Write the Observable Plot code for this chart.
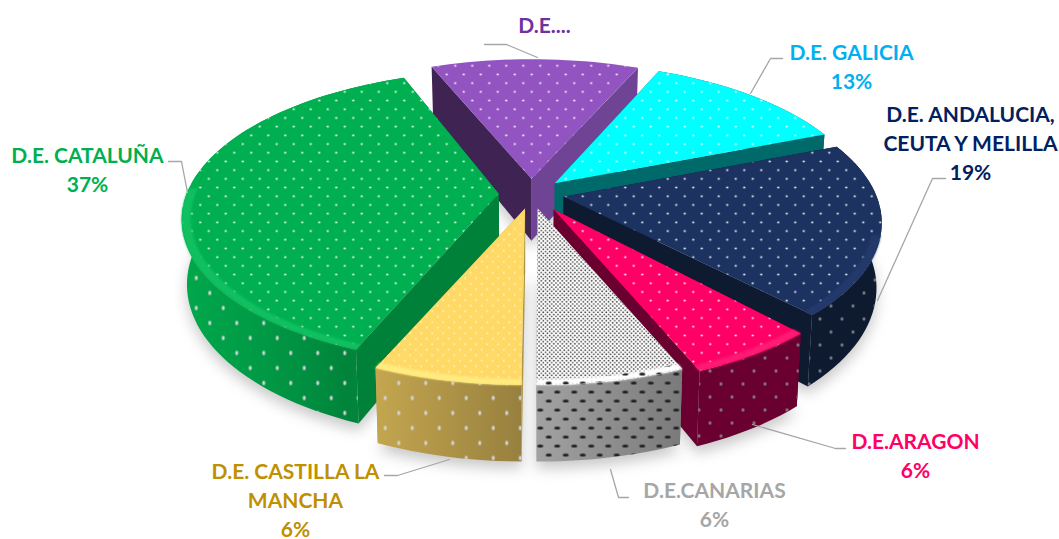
<!DOCTYPE html>
<html><head><meta charset="utf-8">
<style>html,body{margin:0;padding:0;background:#fff}svg{display:block}</style>
<script src="https://cdn.jsdelivr.net/npm/d3@7"></script>
<script src="https://cdn.jsdelivr.net/npm/@observablehq/plot@0.6"></script>
</head><body><div id="chart"></div>
<script>
// data, clockwise from the back slice
const categories = ["D.E....","D.E. GALICIA","D.E. ANDALUCIA,\nCEUTA Y MELILLA","D.E.ARAGON","D.E.CANARIAS","D.E. CASTILLA LA\nMANCHA","D.E. CATALUÑA"];
const shares = [13,12.5,18.9,6.1,6.1,6,37.4];
const showPercent = [false,true,true,true,true,true,true];
const labelColors = ["#7030A0","#00B0F0","#002060","#FF0066","#A6A6A6","#BF9000","#00B050"];
const topColors = ["#9254C0","#00FFFF","#1C3260","#FF0066","#FFFFFF","#FFD966","#00B050"];
const wallColors = ["#6F4494","#006A6B","#0D1A30","#6A0030","#8E8E8E","#AE9546","#00813A"];
const sideColors = ["#3F2353","#006A6B","#0D1A30","#6A0030","#8E8E8E","#AE9546","#00813A"];
const bandColors = [null,null,"#24396B","#FF1A74","#FFFFFF","#FFEB80","#10C060"];
const drawOrder = [0,1,2,3,6,4,5];

// layout
const labelPos = [[544,23],[851,65],[970,141],[915,454],[714,503],[295,498],[87,168]];
const leaders = [
  [[484,44],[506,44],[537,57]],
  [[782,58],[770,58],[750,93]],
  [[945,178],[932,178],[877,300]],
  [[845,448],[835,448],[752,424]],
  [[628,497],[618,497],[610,469]],
  [[384,475],[397,475],[449,459]],
  [[168,161],[181,161],[187,192]]
];
const view = {cx:531, cy:193, rx:312, ry:143, u:0.16, depth:63, shrink:0.985, start:-23.4};
const explodeBy = [0.105,0.105,0.105,0.13,0.105,0.105,0.105];
// small per-slice edge adjustments in degrees (start, end), for the drawing's perspective
const edgeTrim = [[1.5,0],[0,0],[0,0],[1,-0.7],[-1,0],[0,1.5],[0,2]];

const total = d3.sum(shares);
const rad = d => d*Math.PI/180;
let acc = view.start;
const slices = shares.map((v,i)=>{const a0=acc; acc+=v/total*360; return {i,a0:a0+edgeTrim[i][0],a1:acc+edgeTrim[i][1],am:(a0+acc)/2,e:explodeBy[i]};});

function plane(s,r,a){
  const px=r*Math.sin(rad(a))+s.e*Math.sin(rad(s.am));
  const py=r*Math.cos(rad(a))+s.e*Math.cos(rad(s.am));
  const k=1/(1+view.u*py);
  return {x:view.cx+view.rx*px*k, y:view.cy-view.ry*py*k, k};
}
const drop = p => ({x:view.cx+(p.x-view.cx)*view.shrink, y:p.y+view.depth*p.k});
function arc(s,r,a0,a1){const n=Math.max(2,Math.ceil(Math.abs(a1-a0)/2)); return d3.range(n+1).map(j=>plane(s,r,a0+(a1-a0)*j/n));}
const poly=(pts,fill,extra={})=>Plot.line(pts,{x:"x",y:"y",fill,stroke:"none",...extra});

const marks=[];
// soft shadow beneath the pie
for(const s of slices){
  const bottom=[plane(s,0,0),...arc(s,1,s.a0,s.a1)].map(drop).map(p=>({x:p.x,y:p.y+7}));
  marks.push(poly(bottom,"#c8c8c8",{imageFilter:"blur(7px)"}));
}
const dotsTop=["url(#dTop)","url(#dTop)","url(#dTop)","url(#dTop)","url(#dDense)","url(#dFine)","url(#dTop)"];
const dotsWall=[null,null,"url(#wGrey)","url(#wGrey)","url(#wDark)","url(#wLight)","url(#wLight)"];
const gradWall=[null,null,null,null,"url(#gGrey)","url(#gGold)","url(#gGreen)"];
for(const idx of drawOrder){
  const s=slices[idx];
  const apex=plane(s,0,0);
  const e0=plane(s,1,s.a0), e1=plane(s,1,s.a1);
  // radial walls
  marks.push(poly([apex,e1,drop(e1),drop(apex)],idx===0?wallColors[0]:sideColors[idx]));
  marks.push(poly([apex,e0,drop(e0),drop(apex)],sideColors[idx]));
  // curved wall (the back slice hides its own)
  const rim=arc(s,1,s.a0,s.a1);
  if(idx!==0){
    const wall=[...rim,...rim.slice().reverse().map(drop)];
    marks.push(poly(wall,gradWall[idx]||wallColors[idx]));
    if(dotsWall[idx]) marks.push(poly(wall,dotsWall[idx]));
  }
  // top face
  const face=[apex,...rim];
  marks.push(poly(face,topColors[idx]));
  marks.push(poly(face,dotsTop[idx]));
  // bevel highlight on the near rim
  if(bandColors[idx]){
    const a0=Math.max(s.a0,105), a1=Math.min(s.a1,272);
    const band=[...arc(s,1.0,a0,a1),...arc(s,0.972,a0,a1).reverse()];
    marks.push(poly(band,bandColors[idx],{imageFilter:"blur(1px)"}));
    if(idx===4) marks.push(poly(band,"url(#wDark)"));
  }
}
// leader lines and labels
leaders.forEach(l=>marks.push(Plot.line(l.map(([x,y])=>({x,y})),{x:"x",y:"y",stroke:"#A6A6A6",strokeWidth:1.3})));
const labels=categories.map((c,i)=>({
  text:showPercent[i]?`${c}\n${Math.round(shares[i])}%`:c,
  x:labelPos[i][0],y:labelPos[i][1],color:labelColors[i]}));
labels.forEach(l=>marks.push(Plot.text([l],{x:"x",y:"y",text:"text",fill:l.color,fontSize:21,fontWeight:700,fontFamily:"Lato, Carlito, sans-serif",lineHeight:1.38,textAnchor:"middle"})));

const chart=Plot.plot({width:1059,height:539,margin:0,
  x:{domain:[0,1059],range:[0,1059],axis:null},
  y:{domain:[0,539],range:[0,539],axis:null},
  marks});

const defs=d3.select(chart).insert("defs",":first-child");
function dots(id,w,h,rx,ry,color){
  const p=defs.append("pattern").attr("id",id).attr("patternUnits","userSpaceOnUse").attr("width",w).attr("height",h);
  [[w/4,h/4],[3*w/4,3*h/4]].forEach(([cx,cy])=>p.append("ellipse").attr("cx",cx).attr("cy",cy).attr("rx",rx).attr("ry",ry).attr("fill",color));
}
dots("dTop",17,17.4,1.05,1.05,"#fff");
dots("dFine",11,11,0.6,1,"#fff");
dots("dDense",4.2,4.2,0.9,0.9,"#444");
dots("wLight",27,30,1.5,2.2,"#d4d4d4");
dots("wGrey",22,26,1.3,1.8,"#8a8a8a");
dots("wDark",17,18,3,1.6,"#222");
function grad(id,stops){
  const g=defs.append("linearGradient").attr("id",id).attr("x1",0).attr("x2",1).attr("y1",0).attr("y2",0);
  stops.forEach(([o,c])=>g.append("stop").attr("offset",o).attr("stop-color",c));
}
grad("gGold",[[0,"#C4A64F"],[1,"#97803F"]]);
grad("gGrey",[[0,"#A2A2A2"],[1,"#7A7A7A"]]);
grad("gGreen",[[0,"#00A84B"],[0.35,"#009A46"],[0.75,"#00843B"],[1,"#009342"]]);
document.getElementById("chart").appendChild(chart);
</script></body></html>
